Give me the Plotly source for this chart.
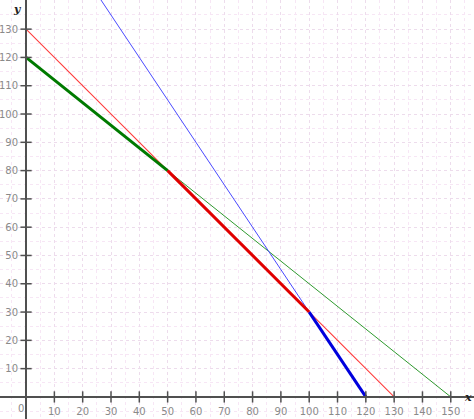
import plotly.graph_objects as go

# Data
tick_vals = [10, 20, 30, 40, 50, 60, 70, 80, 90, 100, 110, 120, 130, 140, 150]
y_tick_vals = [10, 20, 30, 40, 50, 60, 70, 80, 90, 100, 110, 120, 130]
origin_label = "0"

green_x = [0, 150]
green_y = [120, 0]
red_x = [0, 130]
red_y = [130, 0]
blue_x = [20, 120]
blue_y = [150, 0]

green_thick_x = [0, 50]
green_thick_y = [120, 80]
red_thick_x = [50, 100]
red_thick_y = [80, 30]
blue_thick_x = [100, 120]
blue_thick_y = [30, 0]

x_range = [-9.2, 158.2]
y_range = [-7.8, 140.3]
axis_col = "#505050"
label_col = "#8a8a8a"

fig = go.Figure()

# thin full lines
fig.add_trace(go.Scatter(x=green_x, y=green_y, mode="lines", line=dict(color="#2e9a2e", width=1)))
fig.add_trace(go.Scatter(x=red_x, y=red_y, mode="lines", line=dict(color="#ff3a3a", width=1.1)))
fig.add_trace(go.Scatter(x=blue_x, y=blue_y, mode="lines", line=dict(color="#4a4aff", width=1)))
# thick segments
fig.add_trace(go.Scatter(x=green_thick_x, y=green_thick_y, mode="lines", line=dict(color="#007a00", width=3)))
fig.add_trace(go.Scatter(x=red_thick_x, y=red_thick_y, mode="lines", line=dict(color="#e00000", width=3)))
fig.add_trace(go.Scatter(x=blue_thick_x, y=blue_thick_y, mode="lines", line=dict(color="#0000dd", width=3)))

# crossing tick marks
fig.add_trace(go.Scatter(x=tick_vals, y=[0] * len(tick_vals), mode="markers",
                         marker=dict(symbol="line-ns", size=8, line=dict(color=axis_col, width=1.5))))
fig.add_trace(go.Scatter(x=[0] * len(y_tick_vals), y=y_tick_vals, mode="markers",
                         marker=dict(symbol="line-ew", size=8, line=dict(color=axis_col, width=1.5))))

x0_frac = (0 - x_range[0]) / (x_range[1] - x_range[0])
y0_frac = (0 - y_range[0]) / (y_range[1] - y_range[0])

grid_major = "#eddcec"
grid_minor = "#f7e6f5"

fig.update_layout(
    width=474, height=419,
    margin=dict(l=0, r=0, t=0, b=0),
    paper_bgcolor="white", plot_bgcolor="white",
    showlegend=False,
    xaxis=dict(range=x_range, anchor="free", position=y0_frac, automargin=False,
               domain=[0, 1],
               tickvals=tick_vals, ticktext=[str(v) for v in tick_vals],
               showline=True, linecolor=axis_col, linewidth=2,
               zeroline=False, ticks="", ticklabelstandoff=5,
               tickfont=dict(family="DejaVu Sans", size=10, color=label_col),
               showgrid=True, gridcolor=grid_major, griddash="dot", gridwidth=1, dtick=10,
               minor=dict(dtick=5, showgrid=True, gridcolor=grid_minor, griddash="dot")),
    yaxis=dict(range=y_range, anchor="free", position=x0_frac, automargin=False,
               domain=[0, 1],
               tickvals=y_tick_vals, ticktext=[str(v) for v in y_tick_vals],
               showline=True, linecolor=axis_col, linewidth=2,
               zeroline=False, ticks="", ticklabelstandoff=5,
               tickfont=dict(family="DejaVu Sans", size=10, color=label_col),
               showgrid=True, gridcolor=grid_major, griddash="dot", gridwidth=1,
               minor=dict(dtick=5, showgrid=True, gridcolor=grid_minor, griddash="dot")),
    annotations=[
        dict(x=0, y=0, xref="x", yref="y", text=origin_label, showarrow=False,
             xanchor="right", yanchor="top", xshift=0, yshift=-4,
             font=dict(family="DejaVu Sans", size=10, color=label_col)),
        dict(x=0, y=140.3, xref="x", yref="y", text="y", showarrow=False,
             xanchor="right", yanchor="top", xshift=-2, yshift=-1,
             font=dict(family="DejaVu Serif", size=11, color="#222", style="italic", weight="bold")),
        dict(x=158.2, y=0, xref="x", yref="y", text="x", showarrow=False,
             xanchor="right", yanchor="middle", xshift=0, yshift=-1,
             font=dict(family="DejaVu Serif", size=11, color="#222", style="italic", weight="bold")),
    ],
)

fig.write_html("out.html", config={"displayModeBar": False},
               post_script="document.body.style.margin='0';document.body.style.overflow='hidden';")
